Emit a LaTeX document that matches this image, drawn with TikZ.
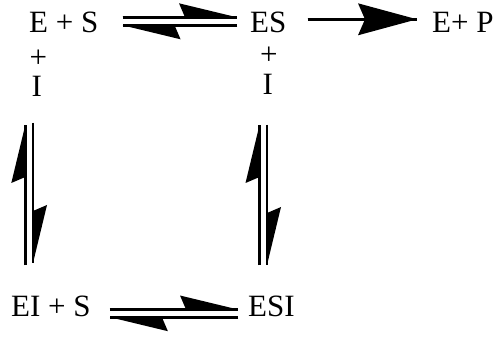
\documentclass[tikz,border=0pt]{standalone}
\usepackage{fontspec}
\setmainfont{Liberation Serif}
\usetikzlibrary{arrows.meta}
\begin{document}
\begin{tikzpicture}[x=1pt,y=1pt,
  lbl/.style={anchor=base west, inner sep=0pt, font=\fontsize{31}{37}\selectfont},
  eqline/.style={line width=2.8pt,
    postaction={draw, line width=2.8pt, -{Stealth[left, length=58pt, width=28pt, inset=6pt, line width=0pt]}}},
  fwd/.style={line width=2.8pt,
    postaction={draw, line width=2.8pt, -{Stealth[length=59pt, width=32pt, inset=7pt, line width=0pt]}}}]
\useasboundingbox (0,0) rectangle (496,338);
% texts
\node[lbl] (ES1) at (29,305) {E + S};
\node[lbl] (P1) at (29.5,270.4) {+};
\node[lbl] (I1) at (31.5,241) {I};
\node[lbl] (ES) at (250,305) {ES};
\node[lbl] (P2) at (260,273) {+};
\node[lbl] (I2) at (262.5,243) {I};
\node[lbl] (EP) at (432,305) {E+ P};
\node[lbl] (EIS) at (11,21.3) {EI + S};
\node[lbl] (ESI) at (248,21.3) {ESI};
% top equilibrium E+S <=> ES
\draw[eqline] ([xshift=24pt,yshift=15.7pt]ES1.base east) -- ([xshift=-13pt,yshift=15.7pt]ES.base west);
\draw[eqline] ([xshift=-13pt,yshift=7.7pt]ES.base west) -- ([xshift=24pt,yshift=7.7pt]ES1.base east);
% ES -> E+P
\draw[fwd] ([xshift=21pt,yshift=13.7pt]ES.base east) -- ([xshift=-15pt,yshift=13.7pt]EP.base west);
% left vertical equilibrium
\draw[eqline] ([xshift=14.3pt,yshift=51.7pt]EIS.base west) -- ([xshift=-6.2pt,yshift=-28pt]I1.base west);
\draw[eqline] ([xshift=1.5pt,yshift=-26pt]I1.base west) -- ([xshift=22pt,yshift=53.7pt]EIS.base west);
% right vertical equilibrium
\draw[eqline] ([xshift=11.5pt,yshift=51.7pt]ESI.base west) -- ([xshift=-3pt,yshift=-30pt]I2.base west);
\draw[eqline] ([xshift=4.5pt,yshift=-30pt]I2.base west) -- ([xshift=19pt,yshift=51.7pt]ESI.base west);
% bottom equilibrium EI+S <=> ESI
\draw[eqline] ([xshift=19pt,yshift=7.2pt]EIS.base east) -- ([xshift=-10pt,yshift=7.2pt]ESI.base west);
\draw[eqline] ([xshift=-10pt,yshift=-0.5pt]ESI.base west) -- ([xshift=19pt,yshift=-0.5pt]EIS.base east);
\end{tikzpicture}
\end{document}
